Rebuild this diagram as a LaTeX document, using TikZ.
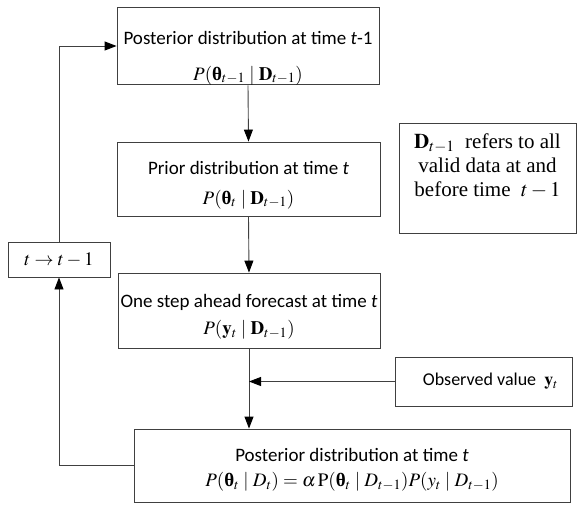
\documentclass[tikz,border=0pt]{standalone}
\usepackage{mathptmx}
\usepackage{amsmath}
\usepackage[no-math]{fontspec}
\setmainfont{Carlito}
\newfontfamily\tms{Liberation Serif}
\usetikzlibrary{arrows.meta}
\newcommand\bth{\mbox{\tms\bfseries θ}}
\begin{document}
\begin{tikzpicture}[x=1pt,y=-1pt,
  box/.style={draw=black!75, line width=0.9pt, align=center, inner sep=0pt,
    font=\fontsize{19}{23}\selectfont},
  link/.style={draw=black!75, line width=0.9pt,
    -{Triangle[length=12pt,width=9pt,color=black]}}]
\useasboundingbox (0,0) rectangle (579,506);

\node[box, minimum width=262pt, minimum height=74pt] (box1) at (248,46)
  {\rule{0pt}{37pt}Posterior distribution at time \textit{t}-1\\[13pt]
   $P(\bth_{t-1}\mid\mathbf{D}_{t-1})$};
\node[box, minimum width=263pt, minimum height=74pt] (box2) at (248.5,179)
  {\rule{0pt}{25pt}Prior distribution at time \textit{t}\\[7pt]
   $P(\bth_{t}\mid\mathbf{D}_{t-1})$};
\node[box, minimum width=262pt, minimum height=75pt] (box3) at (249,310.5)
  {\rule{0pt}{26pt}One step ahead forecast at time \textit{t}\\[4pt]
   $P(\mathbf{y}_{t}\mid\mathbf{D}_{t-1})$};
\node[box, minimum width=436pt, minimum height=73pt] (box4) at (352,465.5)
  {\rule{0pt}{22pt}Posterior distribution at time \textit{t}\\[2pt]
   $P(\bth_{t}\mid D_{t})=\alpha\,\mathrm{P}(\bth_{t}\mid D_{t-1})P(y_{t}\mid D_{t-1})$};
\node[box, minimum width=102pt, minimum height=35pt, font=\fontsize{19}{23}\selectfont] (boxT) at (59,259.5)
  {$t\to t-1$};
\node[box, minimum width=177pt, minimum height=110pt, font=\fontsize{21}{24}\selectfont\tms] (boxD) at (487.5,178)
  {$\mathbf{D}_{t-1}$\ \ refers to all\\
   valid data at and\\
   before time\ \ $t-1$\rule[-26pt]{0pt}{0pt}};
\node[box, minimum width=177pt, minimum height=49pt, font=\fontsize{18}{22}\selectfont] (boxO) at (483.5,381.5)
  {\hspace*{14pt}Observed value\ \ $\mathbf{y}_{t}$};

\draw[link] (box1.south) -- (box2.north);
\draw[link] (box2.south) -- (box3.north);
\draw[link] (box3.south) -- (box3.south |- box4.north);
\draw[link] (boxO.west) -- (boxO.west -| box3.south);
\draw[link] (box4.west) -| (boxT.south);
\draw[link] (boxT.north) |- (box1.west);
\end{tikzpicture}
\end{document}
